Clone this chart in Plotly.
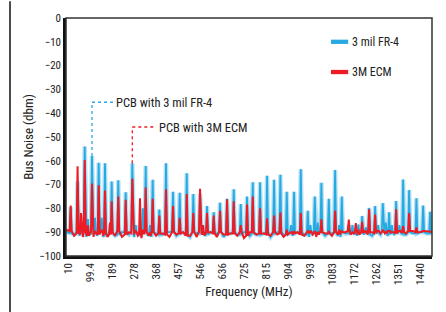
import plotly.graph_objects as go

# ---------------- data ----------------
peak_freq_mhz = [
    21, 49, 63, 78, 91, 107.5, 119.7, 134.7, 146.9, 160.3,
    180.6, 187.5, 214.3, 244.4, 271.2, 285, 302.5, 314.7, 325.6, 343,
    354, 380.9, 408, 436.5, 463.7, 492.2, 518.9, 546.2, 558.4, 574.6,
    601.8, 627.4, 655.9, 683.1, 711.5, 737.1, 760.3, 789.9, 818.4, 846.8,
    872.4, 898.4, 915.9, 928, 955.3, 983.7, 994.3, 1012.1, 1024.3, 1038.9,
    1069, 1094.6, 1110.8, 1121.8, 1150.2, 1164.8, 1178.6, 1189.2, 1204.3, 1219.3,
    1232.7, 1257, 1269.2, 1288.3, 1300.5, 1313.9, 1324.9, 1342.3, 1355.7, 1370.8,
    1395.1, 1424.8, 1452, 1480.4,
]

fr4_peak_dbm = [
    -79.4, -68.7, -88, -54, -84.5, -58, -84, -60.8, -84, -61,
    -89.5, -68.7, -68.2, -73.2, -61, -87, -89, -80, -62.2, -87,
    -68, -80.5, -61, -73, -73.4, -65.2, -74, -74, -89.5, -79,
    -81.6, -77.6, -76, -72, -78.2, -75, -69, -69, -66.3, -68,
    -65.9, -73, -87, -73, -63.6, -81, -87, -75, -86, -69.2,
    -76, -63.9, -87, -75, -87, -87, -89.5, -86.8, -83.2, -88,
    -79.8, -79, -87, -77.8, -86, -81.6, -87, -76.9, -87, -67.9,
    -72.3, -75.8, -78.8, -81.4,
]

ecm_peak_dbm = [
    -78.8, -62.3, -82, -59.7, -87, -69.5, -89.5, -70.3, -89, -72.5,
    -86, -77, -75, -76.4, -67.5, -89.5, -75.7, -89, -71.2, -90,
    -76, -83, -72, -79, -84, -74, -82, -71.8, -87, -82,
    -83, -81, -76.2, -77, -87, -78.4, -75, -80, -84.2, -83,
    -81.7, -89, -90, -89.5, -82, -89.5, -90, -89.5, -90, -84.6,
    -89.5, -81, -89, -89.5, -84.7, -90, -86.2, -89, -85.6, -90,
    -80.4, -82.6, -89.5, -89, -90, -89.5, -90, -80.4, -89.5, -87.5,
    -82, -88, -89.5, -89.5,
]

# noise floor at the foot of each spike
fr4_foot_dbm = [
    -90.5, -90, -90.5, -89.5, -90, -91, -90, -90.5, -89.5, -91,
    -90, -90.5, -91, -90, -89.5, -90.5, -91, -90, -90, -90.5,
    -90, -91, -90, -89.5, -90.5, -91, -90, -90.5, -90, -91,
    -90, -89.5, -90.5, -90, -91, -90, -90.5, -91, -90, -90.5,
    -90, -91, -89.5, -90.5, -90, -91, -90.5, -90, -91, -90,
    -90.5, -90, -91.5, -90, -90.5, -90, -91, -90, -90.5, -90,
    -91, -90, -90.5, -89.5, -90, -91, -90, -90.5, -90, -91,
    -90, -90.5, -90, -90.5,
]
ecm_foot_dbm = [
    -89.5, -90.5, -91, -90, -91.5, -90, -90.5, -91, -90, -90.5,
    -91, -90, -89.5, -91, -90.5, -90, -91, -90.5, -90, -91.5,
    -90, -90.5, -91, -90, -90.5, -91.5, -90, -89.5, -91, -90,
    -90.5, -90, -91, -90.5, -90, -91.5, -90, -90.5, -91, -90,
    -90.5, -91, -90, -90.5, -91, -90, -89.5, -90.5, -91, -90,
    -90.5, -90, -91, -90, -89.5, -90.5, -90, -91, -90, -89.5,
    -90, -90.5, -89.5, -90, -90.5, -89.5, -90, -90.5, -89.5, -90,
    -89.5, -90, -89.5, -89.8,
]

# noise between spikes
fr4_valley_dbm = [
    -91, -91.5, -90, -92, -90.5, -91, -91.5, -90, -92, -91,
    -90.5, -91.5, -90, -91, -92, -90.5, -91, -90, -91.5, -92,
    -90.5, -91, -90, -91.5, -90, -92, -90.5, -91, -91.5, -90,
    -91, -92, -90.5, -91, -90, -91.5, -91, -90.5, -92, -90,
    -91, -90.5, -91.5, -90, -91, -92, -90.5, -91, -90, -91.5,
    -90.5, -91, -92, -90.5, -91, -90, -91.5, -90.5, -91, -90,
    -91.5, -90.5, -91, -90, -91.5, -90.5, -91, -90, -90.5, -91,
    -90.5, -90, -90.5,
]
ecm_valley_dbm = [
    -91.5, -90, -92, -91, -90.5, -92, -91, -90, -91.5, -92,
    -90.5, -91.5, -92, -90, -91, -91.5, -92.5, -90.5, -91, -90,
    -91.5, -90.5, -92, -91, -90, -91.5, -92, -90.5, -91, -90,
    -92, -91, -90.5, -91.5, -92.5, -90, -91, -90.5, -91.5, -91,
    -92, -90.5, -91, -90, -91.5, -90.5, -91, -92, -90, -90.5,
    -91.5, -90.5, -91, -90, -91, -90.5, -89.5, -90.5, -90, -91,
    -90, -89.5, -90.5, -90, -89.5, -90.5, -90, -89.5, -90, -90.5,
    -89.5, -90, -89.5,
]

span_mhz = [3, 1488]
fr4_edge_dbm = [-89.5, -90.5]
ecm_edge_dbm = [-89, -90]

tick_values = [10, 99.4, 189, 278, 368, 457, 546, 636, 725, 815,
               904, 993, 1083, 1172, 1262, 1351, 1440]
tick_labels = ["10", "99.4", "189", "278", "368", "457", "546", "636", "725", "815",
               "904", "993", "1083", "1172", "1262", "1351", "1440"]

series_names = ["3 mil FR-4", "3M ECM"]
callout_texts = ["PCB with 3 mil FR-4", "PCB with 3M ECM"]
callout_peak_index = [5, 14]          # which spike each callout points at
callout_level_dbm = [-35.4, -45.8]    # height of the callout leader
callout_text_mhz = [205, 378]

# ---------------- styles ----------------
BLUE = "#27a9e1"
BLUE_HALO = "rgba(39,169,225,0.35)"
RED = "#ed1c24"
FONT = "Liberation Sans Narrow, Arial Narrow, Roboto Condensed, Liberation Sans, Arial, sans-serif"
HALF_W = 4.0  # spike half width in MHz (style)


def spectrum(freqs, peaks, feet, valleys, edges):
    xs, ys = [span_mhz[0]], [edges[0]]
    for i, (f, p, ft) in enumerate(zip(freqs, peaks, feet)):
        xs += [f - HALF_W, f, f + HALF_W]
        ys += [ft, p, ft]
        if i < len(valleys) and i + 1 < len(freqs):
            xs.append((f + freqs[i + 1]) / 2)
            ys.append(valleys[i])
    xs.append(span_mhz[1])
    ys.append(edges[1])
    return xs, ys


bx, by = spectrum(peak_freq_mhz, fr4_peak_dbm, fr4_foot_dbm, fr4_valley_dbm, fr4_edge_dbm)
rx, ry = spectrum(peak_freq_mhz, ecm_peak_dbm, ecm_foot_dbm, ecm_valley_dbm, ecm_edge_dbm)

fig = go.Figure()
fig.add_trace(go.Scatter(x=bx, y=by, mode="lines", line=dict(color=BLUE_HALO, width=4.5),
                         hoverinfo="skip", showlegend=False))
fig.add_trace(go.Scatter(x=bx, y=by, mode="lines", name=series_names[0],
                         line=dict(color=BLUE, width=1.8), showlegend=False))
fig.add_trace(go.Scatter(x=rx, y=ry, mode="lines", name=series_names[1],
                         line=dict(color=RED, width=2), showlegend=False))

shapes = []
annotations = []

# callouts
for k, (txt, idx, lvl, tx, col) in enumerate(zip(callout_texts, callout_peak_index,
                                                    callout_level_dbm, callout_text_mhz,
                                                    [BLUE, RED])):
    f = peak_freq_mhz[idx]
    top = max(fr4_peak_dbm[idx], ecm_peak_dbm[idx])
    shapes.append(dict(type="line", xref="x", yref="y", x0=f, x1=f, y0=top, y1=lvl,
                       line=dict(color=col, width=1.3, dash="dot")))
    shapes.append(dict(type="line", xref="x", yref="y", x0=f, x1=tx - 10, y0=lvl, y1=lvl,
                       line=dict(color=col, width=1.3, dash="dot")))
    annotations.append(dict(x=tx, y=lvl, xref="x", yref="y", text=txt, showarrow=False,
                            xanchor="left", yanchor="middle", xshift=-2,
                            font=dict(family=FONT, size=12.5, color="#222")))

# legend (swatch + label)
for name, col, yp in zip(series_names, [BLUE, RED], [0.9, 0.773]):
    shapes.append(dict(type="rect", xref="paper", yref="paper", x0=0.724, x1=0.771,
                       y0=yp - 0.009, y1=yp + 0.009, fillcolor=col, line=dict(width=0)))
    annotations.append(dict(x=0.776, y=yp, xref="paper", yref="paper", text=name,
                            showarrow=False, xanchor="left", yanchor="middle",
                            font=dict(family=FONT, size=12, color="#222")))

# thin frame (top/right) and outer left rule
shapes.append(dict(type="rect", xref="paper", yref="paper", x0=0, x1=1, y0=0, y1=1,
                   line=dict(color="#333", width=1.5)))
shapes.append(dict(type="line", xref="paper", yref="paper", x0=-0.153, x1=-0.153,
                   y0=-0.24, y1=1.07, line=dict(color="#111", width=1.5)))

fig.update_layout(
    width=446, height=312,
    margin=dict(l=66, r=14, t=16, b=56),
    paper_bgcolor="white", plot_bgcolor="white",
    font=dict(family=FONT, size=11, color="#222"),
    shapes=shapes, annotations=annotations,
    showlegend=False,
)
fig.update_xaxes(
    range=[2, 1488], tickmode="array", tickvals=tick_values, ticktext=tick_labels,
    tickangle=-90, showgrid=False, zeroline=False, showline=True, linecolor="#111",
    linewidth=2.5, ticks="", tickfont=dict(size=11),
    title=dict(text="Frequency (MHz)", font=dict(size=13), standoff=4),
)
fig.update_yaxes(
    range=[-100, 0], dtick=10, showgrid=False, zeroline=False, showline=True,
    linecolor="#111", linewidth=2.5, ticks="", tickfont=dict(size=11),
    title=dict(text="Bus Noise (dbm)", font=dict(size=13), standoff=3),
)

fig.write_html(
    "out.html",
    config={"displayModeBar": False},
    post_script="document.body.style.margin='0';document.body.style.padding='0';",
)
